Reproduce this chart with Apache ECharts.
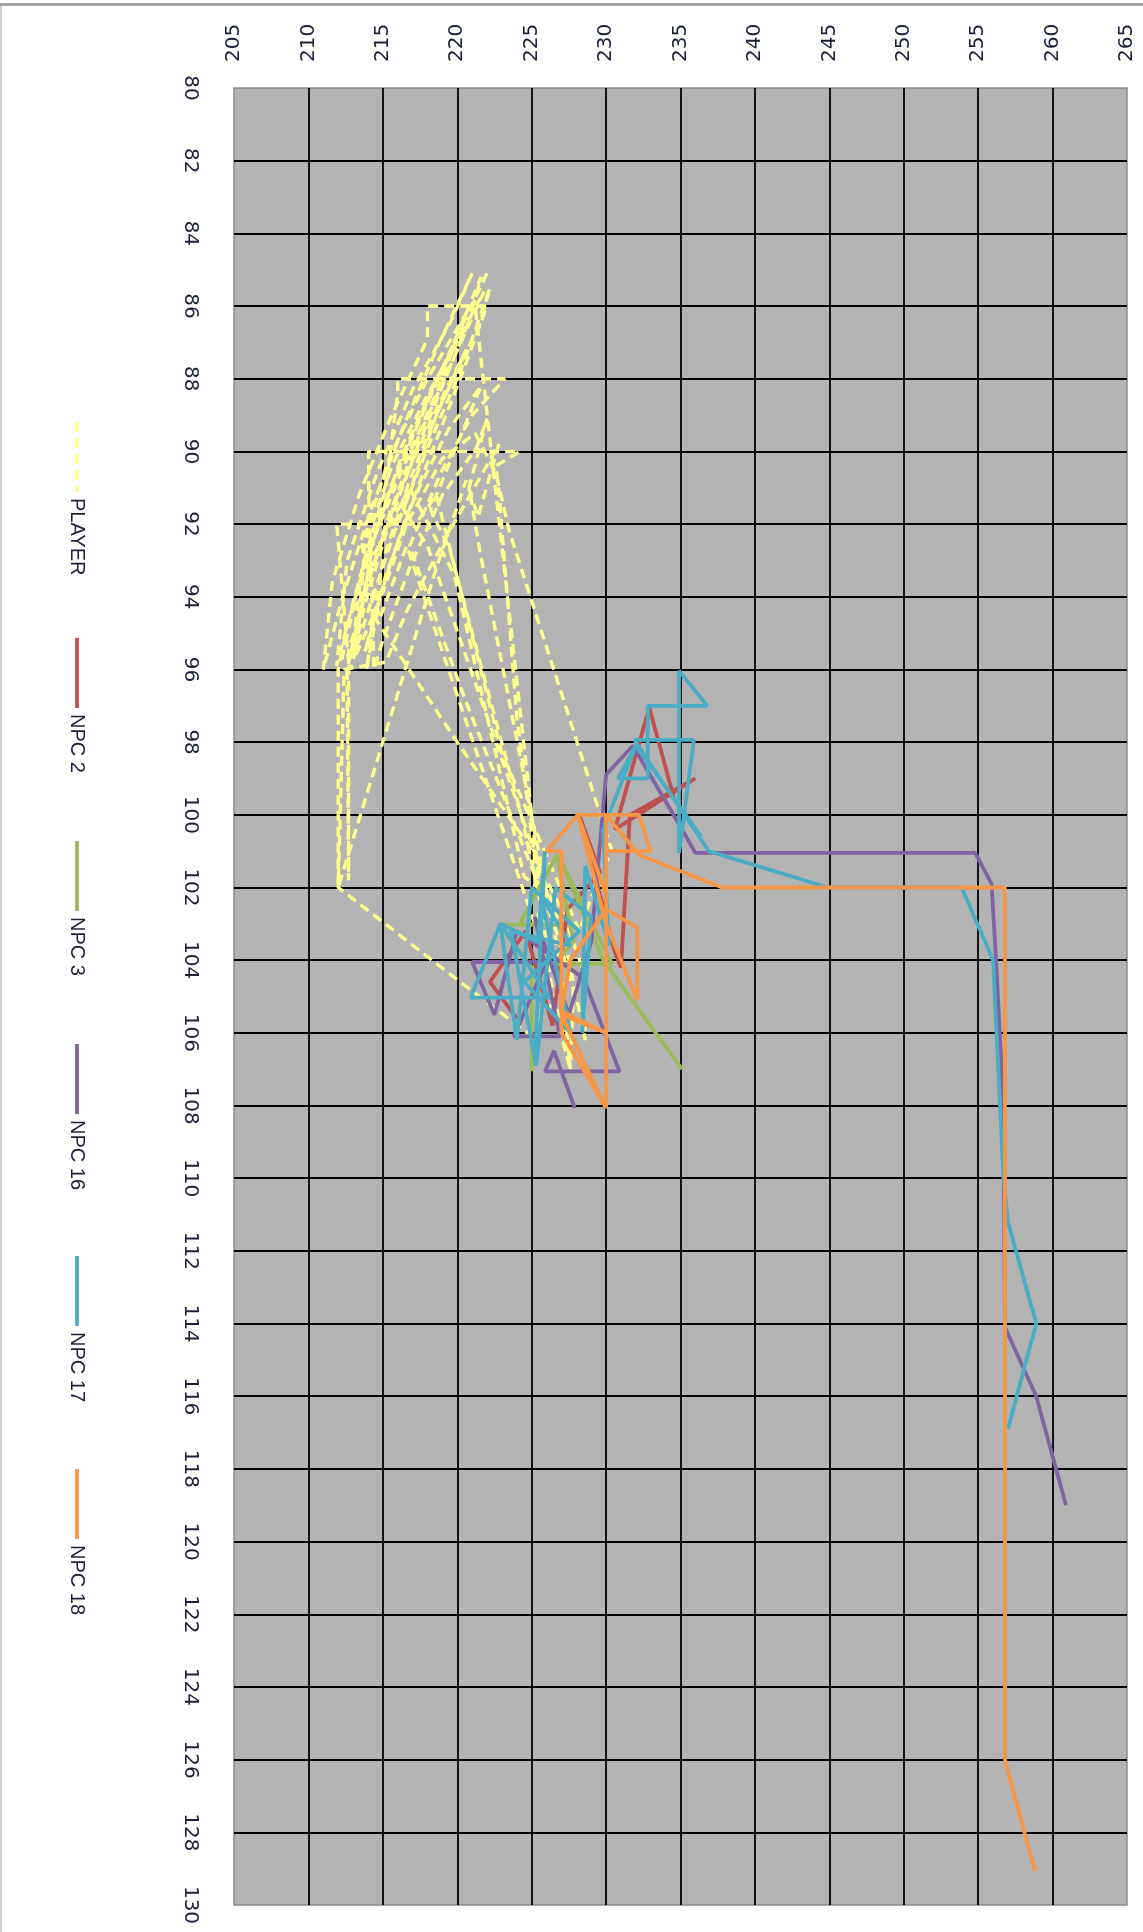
<!DOCTYPE html>
<html>
<head>
<meta charset="utf-8">
<script src="https://cdn.jsdelivr.net/npm/echarts@6/dist/echarts.min.js"></script>
<style>
html,body{margin:0;padding:0;background:#fff;}
#chart{width:1143px;height:1932px;}
</style>
</head>
<body>
<div id="chart"></div>
<script>
// ---- data (x, y) ----
var seriesNames = ['PLAYER', 'NPC 2', 'NPC 3', 'NPC 16', 'NPC 17', 'NPC 18'];
var seriesColors = ['#ffff8f', '#c0504d', '#9bbb59', '#8064a2', '#4bacc6', '#f79646'];

var playerPts = [
[222.0,85.1],[220.0,86.8],[217.8,88.8],[215.5,91.0],[213.5,93.4],[211.9,95.9],
[212.6,93.0],[214.6,90.6],[217.0,88.3],[219.6,86.4],[221.0,85.1],
[218.8,87.0],[216.5,89.2],[214.2,91.6],[212.3,94.0],[211.0,96.0],
[211.6,93.6],[213.4,91.2],[215.6,89.0],[218.0,86.9],[218.0,86.0],[222.0,86.0],
[220.2,88.0],[218.3,90.0],[216.4,92.0],[214.8,94.0],[213.9,96.0],
[215.0,93.0],[216.8,90.8],[219.0,88.6],[221.5,86.5],[222.2,85.5],
[220.4,87.6],[218.0,89.9],[215.8,92.2],[214.0,94.4],[212.8,96.0],
[213.6,93.2],[215.2,91.0],[216.0,88.4],[216.0,88.0],[223.2,88.0],
[221.0,89.0],[219.0,90.5],[216.8,92.6],[220.5,96.8],[226.5,103.0],
[227.8,104.8],[227.6,107.0],[226.9,104.0],[221.5,92.7],[220.8,91.0],[222.0,89.1],[221.3,89.9],
[219.0,91.2],[216.8,93.2],[215.0,95.2],[214.4,96.0],
[214.05,91.0],[214.05,90.0],[224.2,90.0],[222.6,90.4],
[222.8,91.1],[224.0,97.3],[225.2,101.2],
[225.8,102.8],[224.3,100.0],[219.5,92.7],[218.2,91.6],[220.2,89.6],[221.6,88.2],
[219.4,89.4],[217.2,91.2],[215.2,93.4],[213.8,95.5],
[214.5,94.6],[220.0,98.0],[224.9,100.9],[227.0,102.6],
[228.4,104.2],[228.6,106.2],[227.2,103.4],[218.0,92.6],[216.4,91.6],[218.6,89.0],[220.6,87.2],
[218.4,89.0],[216.0,91.2],[214.0,93.6],[212.7,95.8],
[211.9,92.0],[217.2,92.0],[218.6,91.2],[223.0,98.3],[228.2,103.2],
[229.6,101.6],[230.4,101.0],[223.5,92.2],[222.6,90.6],[221.2,89.5],
[219.0,90.2],[216.6,92.0],[214.9,94.0],[213.2,95.6],
[213.8,92.6],[215.6,90.4],[217.8,88.6],[220.2,86.8],[221.8,85.6],
[219.8,87.4],[217.4,89.6],[215.2,92.0],[213.6,94.2],[212.7,95.5],[212.7,101.8],
[212.6,96.0],[214.2,93.0],[216.8,91.0],[219.8,93.4],[224.5,101.7],[226.0,102.2],
[225.2,103.0],[216.6,92.6],[214.8,94.6],[213.6,92.6],[215.4,90.2],[218.0,88.0],[220.6,86.2],
[218.6,88.4],[216.2,90.6],[214.0,92.8],[212.6,94.8],[212.0,96.0],[212.0,102.0],
[215.0,98.0],[216.8,95.6],[218.6,93.2],[220.6,90.8],
[221.4,91.8],[222.8,89.8],[219.2,92.4],[216.6,94.4],[215.2,95.8],[212.4,96.0],[212.0,102.0],
[220.2,104.6],[224.7,106.0],[226.4,105.2],[227.6,107.0],
[226.2,104.4],[221.2,86.0],[219.4,87.8],[217.4,89.8],[215.4,92.0],[213.8,94.2],[213.0,95.6],
[214.4,92.4],[216.2,90.2],[218.4,88.2],[220.8,86.4],[221.6,85.2],
[219.6,87.2],[217.2,89.4],[215.0,91.6],[213.2,94.0],[212.2,95.8]
];

var npc2Pts = [
[224.0,105.6],[222.2,104.6],[224.6,103.2],[226.4,105.8],[227.4,102.6],[229.6,101.6],
[228.2,100.0],[230.6,103.8],[231.0,104.2],[231.6,100.0],[236.0,99.0],[230.6,100.4],
[232.9,97.05],[234.6,99.6]
];

var npc3Pts = [
[225.0,107.06],[225.0,104.2],[222.8,103.03],[226.8,103.03],[224.2,103.0],[226.7,101.1],
[227.8,103.5],[226.5,104.1],[230.4,104.1],[226.9,101.2],[229.8,104.0],[235.1,107.0]
];

var npc16Pts = [
[227.9,108.07],[226.5,106.5],[225.9,107.06],[230.9,107.06],[228.5,104.5],[224.0,103.2],
[222.5,105.5],[221.0,104.05],[226.0,104.05],[223.8,106.1],[226.9,106.1],[225.2,102.8],
[227.5,105.5],[229.0,103.5],[230.0,98.9],[231.8,98.1],[235.1,100.4],[236.0,101.05],
[254.8,101.05],[255.9,101.9],[256.2,104.0],[256.7,108.0],[256.8,114.1],[258.9,116.0],
[260.9,119.0]
];

var npc17Pts = [
[225.2,106.8],[225.9,101.0],[225.4,103.5],[222.9,103.0],[220.9,105.03],[226.2,105.03],
[222.9,103.0],[224.0,106.2],[225.0,102.0],[228.2,103.2],[224.5,104.6],[227.6,106.0],
[225.6,102.2],[227.6,103.6],[223.6,103.2],[225.3,106.9],[226.6,102.0],[229.0,102.8],
[228.4,106.0],[228.6,101.4],[230.2,103.6],[229.8,100.4],[232.0,98.1],[236.4,100.6],
[232.0,98.1],[230.8,99.0],[232.8,99.0],[232.8,97.0],[236.8,97.0],[234.9,96.04],
[234.9,101.05],[235.9,97.94],[231.9,97.94],[236.9,101.0],[244.9,102.0],[253.9,102.0],
[256.0,104.0],[256.7,110.0],[257.0,111.2],[258.9,114.0],[257.0,116.9]
];

var npc18Pts = [
[230.0,108.07],[227.0,106.0],[227.0,101.0],[226.0,101.0],[228.1,100.0],[232.2,100.0],
[233.0,101.0],[230.0,101.0],[230.0,108.07],[227.0,105.5],[230.0,106.0],[227.0,105.4],
[227.6,104.0],[230.0,102.6],[232.1,103.1],[232.1,105.1],[230.0,103.0],[228.1,100.0],
[230.0,102.2],[230.0,100.0],[232.2,101.1],[237.8,102.0],[256.8,102.0],[256.8,126.0],
[258.8,129.05]
];

var xMin = 205, xMax = 265, xStep = 5;
var yMin = 80, yMax = 130, yStep = 2;

var allPts = [playerPts, npc2Pts, npc3Pts, npc16Pts, npc17Pts, npc18Pts];

// ---- chart ----
var chart = echarts.init(document.getElementById('chart'), null, {renderer: 'canvas'});

var series = allPts.map(function (pts, i) {
  return {
    name: seriesNames[i],
    type: 'line',
    data: pts,
    showSymbol: false,
    symbol: 'none',
    smooth: false,
    clip: true,
    lineStyle: {
      color: seriesColors[i],
      width: i === 0 ? 3.4 : 3.8,
      type: i === 0 ? [10, 6] : 'solid'
    },
    z: 2 + i
  };
});

var legendX = 77;
var legendY = [422, 638, 841, 1044, 1256, 1469];
var legendGraphics = [];
seriesNames.forEach(function (name, i) {
  legendGraphics.push({
    type: 'line',
    shape: {x1: legendX, y1: legendY[i], x2: legendX, y2: legendY[i] + 70},
    style: {stroke: seriesColors[i], lineWidth: 3.8, lineDash: i === 0 ? [10, 6] : null},
    silent: true
  });
  legendGraphics.push({
    type: 'text',
    x: legendX,
    y: legendY[i] + 76,
    rotation: -Math.PI / 2,
    style: {
      text: name,
      fill: '#1a2038',
      font: '20px "Liberation Sans", Arial, sans-serif',
      textAlign: 'left',
      textVerticalAlign: 'middle'
    },
    silent: true
  });
});
// frame lines of the picture
legendGraphics.push({type: 'rect', shape: {x: 0, y: 3, width: 1143, height: 3}, style: {fill: '#a6a6a6'}, silent: true});
legendGraphics.push({type: 'rect', shape: {x: 0, y: 6, width: 2, height: 1926}, style: {fill: '#d0d0d0'}, silent: true});

var option = {
  animation: false,
  backgroundColor: '#ffffff',
  grid: {
    left: 234, top: 88, width: 893, height: 1817,
    show: true,
    backgroundColor: '#b3b3b3',
    borderColor: '#8c8c8c',
    borderWidth: 1.5
  },
  xAxis: {
    type: 'value',
    position: 'top',
    min: xMin, max: xMax, interval: xStep,
    axisLine: {show: false},
    axisTick: {show: false},
    axisLabel: {
      rotate: -90,
      margin: 26,
      color: '#1a2038',
      fontFamily: '"DejaVu Sans", Verdana, sans-serif',
      fontSize: 20,
      hideOverlap: false,
      showMinLabel: true,
      showMaxLabel: true
    },
    splitLine: {show: true, showMinLine: false, showMaxLine: false, lineStyle: {color: '#000', width: 1.8}}
  },
  yAxis: {
    type: 'value',
    inverse: true,
    position: 'left',
    min: yMin, max: yMax, interval: yStep,
    axisLine: {show: false},
    axisTick: {show: false},
    axisLabel: {
      rotate: -90,
      margin: 34,
      color: '#1a2038',
      fontFamily: '"DejaVu Sans", Verdana, sans-serif',
      fontSize: 20,
      hideOverlap: false,
      showMinLabel: true,
      showMaxLabel: true
    },
    splitLine: {show: true, showMinLine: false, showMaxLine: false, lineStyle: {color: '#000', width: 1.8}}
  },
  graphic: legendGraphics,
  series: series
};

chart.setOption(option);
</script>
</body>
</html>
